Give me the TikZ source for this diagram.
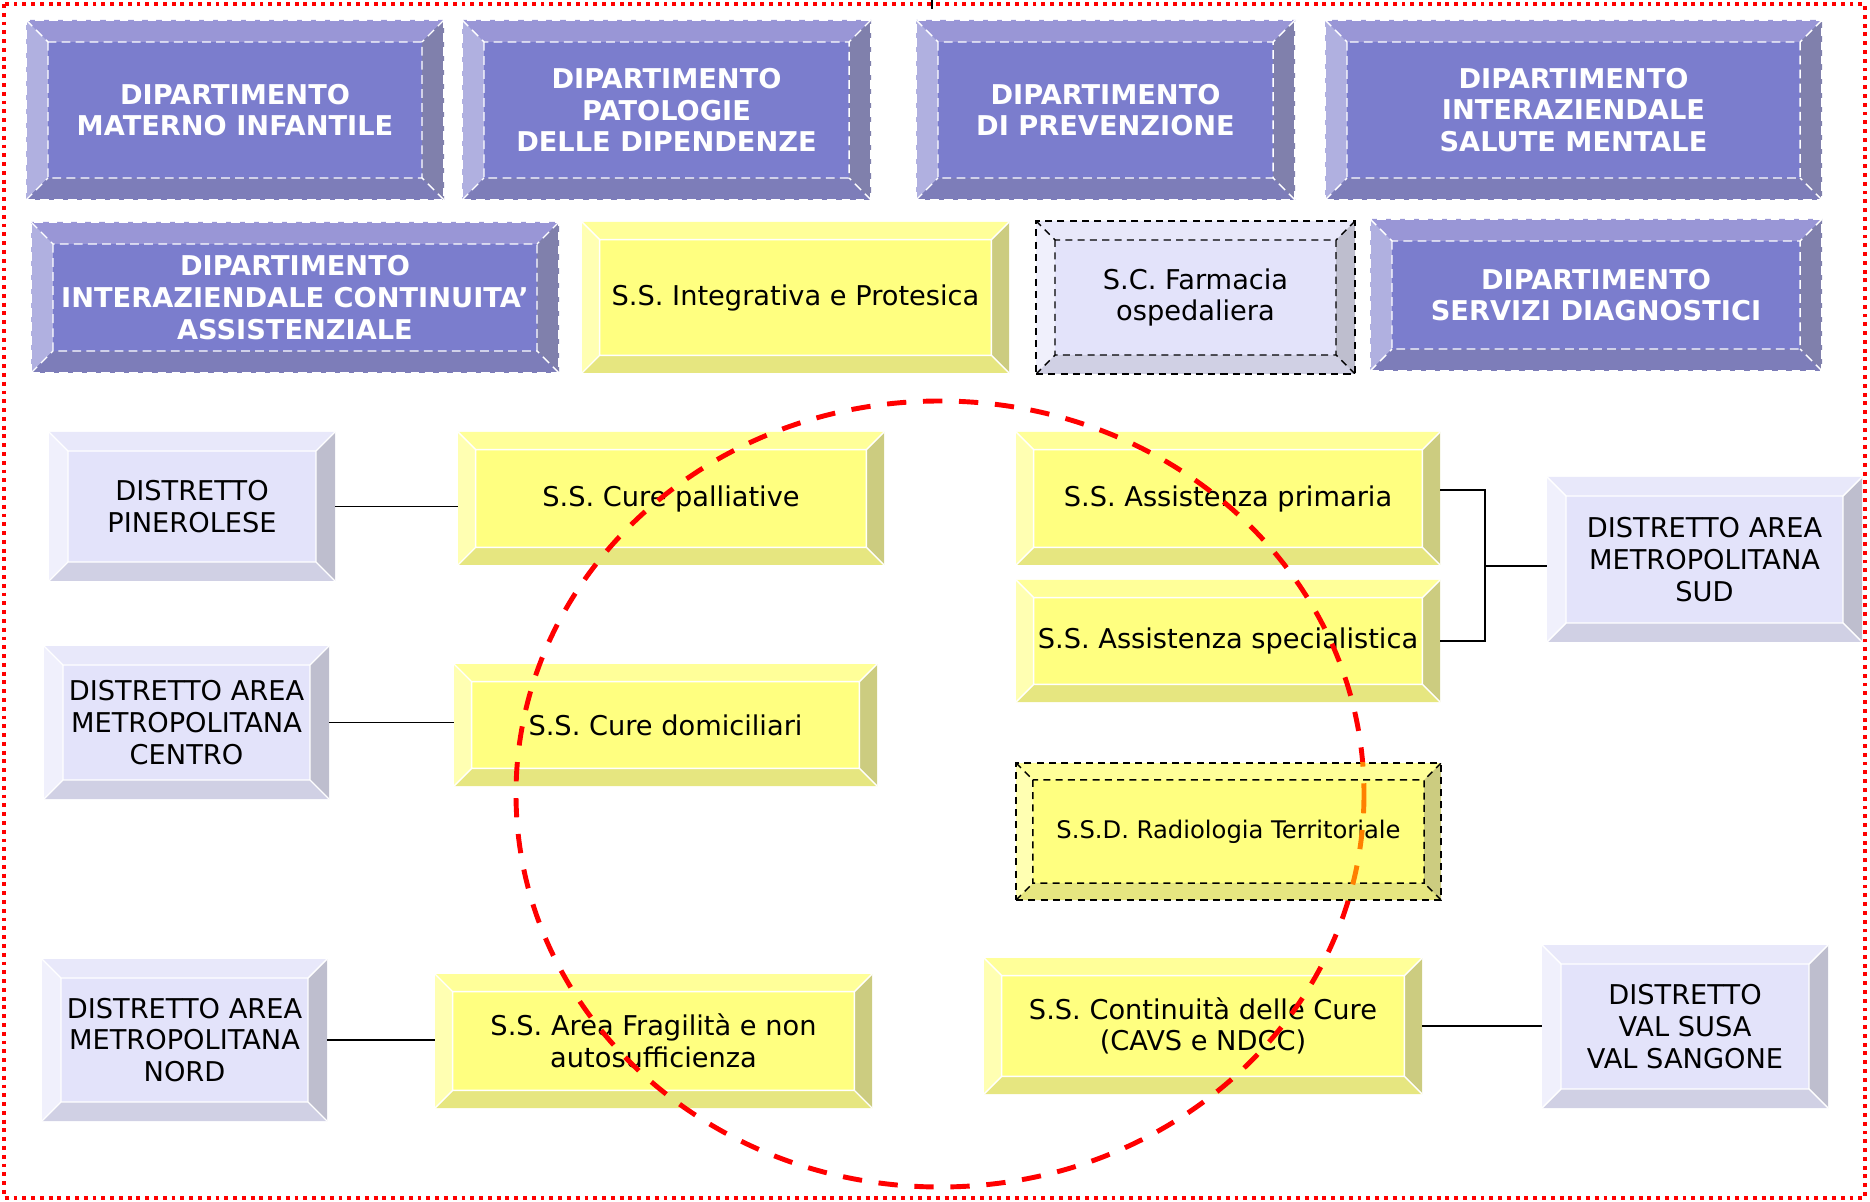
\documentclass[tikz,border=0pt]{standalone}
\usepackage{fontspec}
\setmainfont{DejaVu Sans}
\usetikzlibrary{calc}

\definecolor{dipface}{RGB}{123,125,205}
\definecolor{dipup}{RGB}{153,150,214}
\definecolor{diplt}{RGB}{176,176,224}
\definecolor{dipdn}{RGB}{125,125,185}
\definecolor{diprt}{RGB}{128,128,172}
\definecolor{gialface}{RGB}{255,255,128}
\definecolor{gialup}{RGB}{255,255,153}
\definecolor{giallt}{RGB}{255,255,178}
\definecolor{gialdn}{RGB}{230,230,128}
\definecolor{gialrt}{RGB}{204,204,128}
\definecolor{distface}{RGB}{227,227,250}
\definecolor{distup}{RGB}{232,232,250}
\definecolor{distlt}{RGB}{240,240,252}
\definecolor{distdn}{RGB}{208,208,228}
\definecolor{distrt}{RGB}{190,190,206}

\tikzset{
    bev/.code={\def\bvl{#1}},
    bevel/.style n args={5}{path picture={
            \path (path picture bounding box.north west) coordinate (bnw)
                  (path picture bounding box.north east) coordinate (bne)
                  (path picture bounding box.south west) coordinate (bsw)
                  (path picture bounding box.south east) coordinate (bse);
            \path ($(bnw)+(\bvl,-\bvl)$) coordinate (inw)
                  ($(bne)+(-\bvl,-\bvl)$) coordinate (ine)
                  ($(bsw)+(\bvl,\bvl)$) coordinate (isw)
                  ($(bse)+(-\bvl,\bvl)$) coordinate (ise);
            \fill[#1] (bnw) -- (bne) -- (ine) -- (inw) -- cycle;
            \fill[#2] (bnw) -- (inw) -- (isw) -- (bsw) -- cycle;
            \fill[#3] (bsw) -- (isw) -- (ise) -- (bse) -- cycle;
            \fill[#4] (bne) -- (bse) -- (ise) -- (ine) -- cycle;
            \draw[#5] (inw) rectangle (ise) (bnw) -- (inw) (bne) -- (ine)
                      (bsw) -- (isw) (bse) -- (ise);
        }},
    boxsize/.style 2 args={minimum width=#1*0.02cm, minimum height=#2*0.02cm},
    casella/.style={inner sep=0pt, align=center, font=\fontsize{15.5}{18}\selectfont},
    dip/.style={casella, fill=dipface, draw=white, dash pattern=on 5pt off 3pt, line width=0.8pt,
            text=white, font=\bfseries\fontsize{15.5}{18}\selectfont, bev=12.5pt,
            bevel={dipup}{diplt}{dipdn}{diprt}{white, dash pattern=on 5pt off 3pt, line width=0.8pt}},
    gial/.style={casella, fill=gialface, bev=10pt,
            bevel={gialup}{giallt}{gialdn}{gialrt}{white, solid, line width=0.8pt}},
    dist/.style={casella, fill=distface, bev=10.8pt,
            bevel={distup}{distlt}{distdn}{distrt}{white, solid, line width=0.8pt}},
    farm/.style={dist, draw=black, dash pattern=on 4pt off 3pt, line width=0.8pt,
            bevel={distup}{distlt}{distdn}{distrt}{black, dash pattern=on 4pt off 3pt, line width=0.8pt}},
    radio/.style={gial, draw=black, dash pattern=on 4pt off 3pt, line width=0.8pt, bev=9.6pt,
            font=\fontsize{13.8}{16}\selectfont,
            bevel={gialup}{giallt}{gialdn}{gialrt}{black, dash pattern=on 4pt off 3pt, line width=0.8pt}},
    filo/.style={black, line width=1.1pt},
    cerchio/.style={red, line width=2.8pt, dash pattern=on 11pt off 9.5pt},
    cornice/.style={red, line width=2pt, dash pattern=on 2.2pt off 2.8pt}
}

\begin{document}
\begin{tikzpicture}[x=0.02cm, y=-0.02cm]
    \useasboundingbox (0,0) rectangle (1870,1202);
    \draw[cornice] (4,4) rectangle (1865,1198);
    \coordinate (tacca) at (932,0);
    \draw[filo] (tacca) -- ++(0,9);

    % Dipartimenti
    \foreach \n/\x/\y/\w/\h/\testo in {
            dmi/235/110/418/180/{DIPARTIMENTO\\MATERNO INFANTILE},
            dpd/666.5/110/409/180/{DIPARTIMENTO\\PATOLOGIE\\DELLE DIPENDENZE},
            dpr/1105.5/110/379/180/{DIPARTIMENTO\\DI PREVENZIONE},
            dsm/1573.5/110/497/180/{DIPARTIMENTO\\INTERAZIENDALE\\SALUTE MENTALE},
            dca/295/297.5/528/151/{DIPARTIMENTO\\INTERAZIENDALE CONTINUITA’\\ASSISTENZIALE},
            dsd/1596/295/452/152/{DIPARTIMENTO\\SERVIZI DIAGNOSTICI}} {
            \node[dip, boxsize={\w}{\h}] (\n) at (\x,\y) {\testo};
        }

    % Strutture semplici
    \foreach \n/\x/\y/\w/\h/\testo in {
            integ/795.5/297.5/427/151/{S.S. Integrativa e Protesica},
            pall/671/498.5/426/133/{S.S. Cure palliative},
            dom/665.5/725/423/122/{S.S. Cure domiciliari},
            frag/653.5/1041/437/134/{S.S. Area Fragilità e non\\autosufficienza},
            prim/1228/498.5/424/133/{S.S. Assistenza primaria},
            spec/1228/641/424/122/{S.S. Assistenza specialistica},
            cont/1203/1026/438/136/{S.S. Continuità delle Cure\\(CAVS e NDCC)}} {
            \node[gial, boxsize={\w}{\h}] (\n) at (\x,\y) {\testo};
        }

    % Distretti
    \foreach \n/\x/\y/\w/\h/\testo in {
            pin/192/506.5/286/149/{DISTRETTO\\PINEROLESE},
            cen/186.5/722.5/285/153/{DISTRETTO AREA\\METROPOLITANA\\CENTRO},
            nor/184.5/1040/285/162/{DISTRETTO AREA\\METROPOLITANA\\NORD},
            sud/1704.5/559.5/315/165/{DISTRETTO AREA\\METROPOLITANA\\SUD},
            val/1685/1026.5/286/163/{DISTRETTO\\VAL SUSA\\VAL SANGONE}} {
            \node[dist, boxsize={\w}{\h}] (\n) at (\x,\y) {\testo};
        }
    \node[farm, boxsize={319}{153}] (farm) at (1195.5,297.5) {S.C. Farmacia\\ospedaliera};

    % Collegamenti
    \draw[filo] (pin.east) -- (pin.east -| pall.west);
    \draw[filo] (cen.east) -- (cen.east -| dom.west);
    \draw[filo] (nor.east) -- (nor.east -| frag.west);
    \draw[filo] (cont.east) -- (cont.east -| val.west);
    \coordinate (snodo) at (1485,566);
    \draw[filo] ([yshift=5pt]prim.east) -| (snodo) |- (spec.east);
    \draw[filo] (snodo) -- (snodo -| sud.west);

    % Cerchio
    \coordinate (centro) at (940,794);
    \draw[cerchio] (centro) ellipse [x radius=424, y radius=393];

    \node[radio, boxsize={425}{137}] (rad) at (1228.5,831.5) {S.S.D. Radiologia Territoriale};
    \begin{scope}
        \clip (rad.south west) rectangle (rad.north east);
        \draw[cerchio, orange] (centro) ellipse [x radius=424, y radius=393];
    \end{scope}
\end{tikzpicture}
\end{document}
